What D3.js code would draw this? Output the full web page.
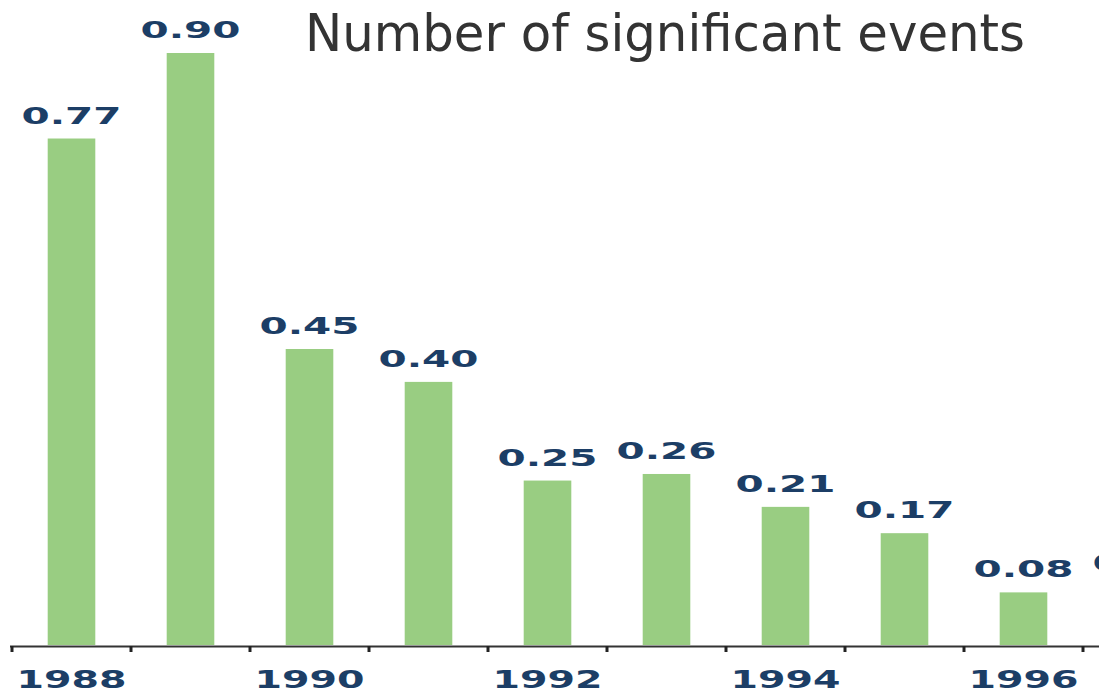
<!DOCTYPE html>
<html>
<head>
<meta charset="utf-8">
<style>
    html, body { margin:0; padding:0; background:#fff; }
    svg { display:block; }
</style>
</head>
<body>
<svg width="1099" height="693"></svg>
<script src="https://d3js.org/d3.v7.min.js"></script>
<script>
    // data
    var years = ["1988","1989","1990","1991","1992","1993","1994","1995","1996","1997"];
    var values = [0.77, 0.90, 0.45, 0.40, 0.25, 0.26, 0.21, 0.17, 0.08, 0.09];
    var yearLabels = ["1988","1990","1992","1994","1996"];
    var title = "Number of significant events";

    var svg = d3.select("svg"),
        baseY = 645;

    var data = years.map(function(d, i) { return {year: d, value: values[i]}; });

    var x = d3.scaleBand()
        .domain(years)
        .range([12, 1202])
        .paddingInner(0.6)
        .paddingOuter(0.3);

    var y = d3.scaleLinear()
        .domain([0, 0.9])
        .range([baseY, 53]);

    var step = x.step();

    // bars
    svg.append("g").attr("class", "bars")
        .selectAll("rect")
        .data(data)
        .enter().append("rect")
        .attr("x", function(d) { return x(d.year); })
        .attr("y", function(d) { return y(d.value); })
        .attr("width", x.bandwidth())
        .attr("height", function(d) { return baseY - y(d.value); })
        .attr("fill", "#99cd82");

    // value labels
    svg.append("g").attr("class", "values")
        .selectAll("text")
        .data(data)
        .enter().append("text")
        .attr("x", function(d) { return x(d.year) + x.bandwidth() / 2 - 50; })
        .attr("y", function(d) { return y(d.value) - 15; })
        .attr("textLength", 100)
        .attr("lengthAdjust", "spacingAndGlyphs")
        .style("font-family", "DejaVu Sans")
        .style("font-weight", "bold")
        .style("font-size", "23px")
        .style("fill", "#1c3e66")
        .text(function(d) { return d3.format(".2f")(d.value); });

    // axis line
    svg.append("line")
        .attr("x1", 10).attr("x2", 1099)
        .attr("y1", baseY + 1.5).attr("y2", baseY + 1.5)
        .attr("stroke", "#333")
        .attr("stroke-width", 2);

    // tick marks between bands
    var edges = years.map(function(d) { return x(d) + x.bandwidth() / 2 - step / 2; });
    edges.push(edges[edges.length - 1] + step);
    svg.append("g").attr("class", "ticks")
        .selectAll("line")
        .data(edges)
        .enter().append("line")
        .attr("x1", function(d) { return d; })
        .attr("x2", function(d) { return d; })
        .attr("y1", baseY + 1)
        .attr("y2", baseY + 7)
        .attr("stroke", "#222")
        .attr("stroke-width", 3);

    // year labels
    svg.append("g").attr("class", "years")
        .selectAll("text")
        .data(yearLabels)
        .enter().append("text")
        .attr("x", function(d) { return x(d) + x.bandwidth() / 2 - 55; })
        .attr("y", 688)
        .attr("textLength", 110)
        .attr("lengthAdjust", "spacingAndGlyphs")
        .style("font-family", "DejaVu Sans")
        .style("font-weight", "bold")
        .style("font-size", "24px")
        .style("fill", "#1c3e66")
        .text(function(d) { return d; });

    // title
    svg.append("text")
        .attr("x", 305)
        .attr("y", 51)
        .attr("textLength", 720)
        .attr("lengthAdjust", "spacingAndGlyphs")
        .style("font-family", "DejaVu Sans")
        .style("font-size", "52px")
        .style("fill", "#333")
        .text(title);
</script>
</body>
</html>
